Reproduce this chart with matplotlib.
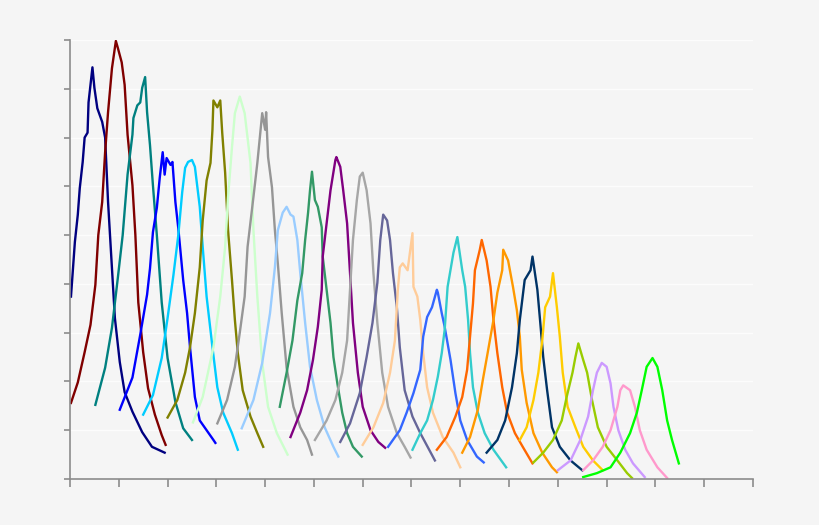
import matplotlib
matplotlib.use("Agg")
import matplotlib.pyplot as plt

# colours of the 24 histogram traces, left to right
colors = ["#000080", "#800000", "#008080", "#0000FF", "#00CCFF", "#808000",
          "#CCFFCC", "#969696", "#99CCFF", "#339966", "#800080", "#A6A6A6",
          "#666699", "#FFCC99", "#3366FF", "#33CCCC", "#FF6600", "#FF9900",
          "#003366", "#FFCC00", "#99CC00", "#CC99FF", "#FF99CC", "#00FF00"]

# x / y values of each trace (x 0..700, y 0..450)
xs = [
    [1, 5, 8, 10, 13, 15, 18, 19, 23, 25, 28, 33, 36, 39, 43, 46, 51, 56, 64, 74, 84, 97],
    [1, 8, 15, 21, 26, 29, 33, 36, 39, 43, 47, 49, 53, 56, 59, 64, 67, 70, 75, 80, 87, 94, 98],
    [26, 36, 43, 49, 54, 59, 64, 65, 69, 72, 74, 77, 79, 82, 85, 89, 94, 100, 108, 116, 125],
    [51, 64, 72, 79, 82, 85, 89, 92, 95, 97, 99, 103, 105, 108, 111, 116, 120, 123, 128, 133, 140, 147, 149],
    [75, 85, 94, 100, 106, 111, 115, 118, 121, 125, 128, 133, 136, 140, 146, 151, 157, 166, 172],
    [100, 110, 118, 123, 128, 133, 136, 140, 144, 146, 147, 151, 154, 156, 159, 162, 166, 169, 172, 177, 185, 192, 198],
    [126, 136, 147, 154, 159, 162, 166, 169, 174, 179, 185, 188, 192, 197, 203, 212, 223],
    [151, 161, 169, 174, 179, 182, 188, 192, 197, 200, 201, 203, 207, 210, 213, 217, 222, 229, 236, 243, 248],
    [176, 188, 197, 205, 210, 213, 218, 222, 226, 229, 233, 236, 241, 246, 253, 261, 270, 275],
    [215, 222, 228, 233, 238, 241, 244, 246, 248, 251, 254, 258, 259, 263, 267, 270, 274, 279, 284, 290, 299],
    [226, 236, 243, 249, 254, 258, 259, 263, 267, 272, 273, 277, 280, 284, 287, 290, 295, 300, 308, 316, 323],
    [251, 263, 272, 279, 284, 287, 290, 294, 297, 300, 304, 308, 311, 315, 320, 326, 335, 343, 349],
    [277, 287, 297, 304, 310, 315, 318, 321, 325, 328, 331, 335, 338, 343, 351, 359, 374],
    [300, 311, 321, 328, 333, 336, 338, 341, 346, 351, 352, 356, 359, 362, 366, 372, 382, 393, 400],
    [326, 338, 345, 352, 359, 362, 366, 371, 376, 377, 381, 384, 390, 395, 400, 407, 417, 424],
    [351, 359, 366, 372, 377, 381, 384, 387, 393, 397, 402, 405, 408, 410, 413, 418, 425, 434, 447],
    [376, 386, 395, 402, 407, 410, 413, 415, 420, 422, 427, 431, 434, 438, 443, 448, 456, 464, 474],
    [402, 410, 418, 423, 428, 434, 438, 443, 444, 449, 454, 458, 461, 463, 468, 475, 484, 494, 499],
    [427, 438, 446, 453, 458, 461, 466, 472, 474, 479, 482, 485, 489, 494, 502, 513, 525],
    [461, 468, 475, 480, 484, 487, 492, 495, 499, 502, 505, 510, 518, 526, 536, 546],
    [475, 485, 495, 504, 509, 515, 518, 521, 526, 530, 535, 541, 550, 561, 571, 576],
    [500, 513, 523, 531, 536, 540, 545, 550, 554, 557, 562, 569, 577, 589],
    [526, 536, 546, 554, 561, 564, 567, 574, 579, 584, 591, 602, 612],
    [526, 540, 554, 564, 574, 581, 586, 591, 597, 602, 607, 612, 617, 624],
]
ys = [
    [187, 243, 271, 298, 325, 350, 355, 386, 422, 401, 380, 366, 350, 284, 216, 165, 120, 89, 69, 48, 33, 27],
    [78, 99, 130, 158, 199, 250, 284, 335, 376, 421, 449, 442, 427, 404, 353, 301, 250, 181, 130, 93, 66, 45, 35],
    [76, 114, 155, 206, 250, 312, 353, 370, 383, 386, 401, 412, 376, 342, 301, 250, 181, 124, 79, 52, 40],
    [71, 104, 148, 189, 216, 253, 278, 309, 335, 312, 329, 322, 325, 284, 257, 204, 170, 135, 84, 60, 50, 40, 37],
    [66, 86, 124, 165, 209, 250, 294, 319, 325, 327, 320, 279, 238, 187, 135, 94, 68, 47, 30],
    [63, 81, 109, 135, 170, 217, 265, 306, 324, 358, 388, 381, 388, 355, 314, 255, 204, 163, 129, 91, 64, 47, 33],
    [58, 84, 135, 187, 238, 289, 340, 375, 392, 375, 324, 255, 187, 119, 74, 47, 25],
    [57, 81, 115, 150, 187, 238, 289, 324, 375, 358, 376, 330, 299, 255, 221, 170, 114, 74, 53, 40, 25],
    [52, 81, 119, 170, 217, 255, 273, 279, 271, 269, 245, 211, 160, 115, 81, 53, 33, 23],
    [74, 109, 142, 183, 211, 245, 273, 296, 315, 286, 279, 258, 228, 194, 160, 125, 98, 68, 47, 33, 23],
    [43, 68, 91, 122, 156, 194, 228, 262, 296, 327, 330, 320, 296, 262, 211, 160, 109, 74, 50, 38, 32],
    [40, 60, 81, 109, 142, 194, 245, 286, 310, 314, 296, 262, 211, 160, 109, 74, 47, 33, 22],
    [38, 57, 88, 125, 160, 201, 245, 271, 265, 245, 211, 176, 135, 91, 64, 47, 19],
    [35, 53, 78, 109, 142, 194, 217, 221, 214, 252, 197, 187, 163, 129, 94, 68, 43, 27, 12],
    [33, 50, 68, 88, 112, 146, 166, 176, 194, 191, 170, 156, 122, 88, 60, 40, 23, 17],
    [30, 47, 60, 81, 105, 129, 153, 197, 232, 248, 214, 197, 163, 129, 94, 68, 47, 30, 12],
    [30, 43, 64, 84, 112, 146, 180, 214, 235, 245, 224, 197, 163, 129, 94, 68, 47, 33, 16],
    [27, 43, 71, 101, 129, 163, 191, 214, 235, 224, 197, 173, 146, 112, 78, 47, 27, 12, 7],
    [27, 40, 60, 94, 129, 163, 204, 214, 228, 194, 160, 125, 91, 53, 33, 19, 9],
    [40, 53, 81, 109, 142, 176, 187, 211, 176, 146, 109, 74, 53, 33, 19, 9],
    [17, 27, 40, 60, 84, 109, 125, 139, 122, 109, 81, 53, 33, 19, 6, 1],
    [9, 19, 40, 64, 91, 109, 119, 115, 98, 74, 50, 30, 16, 2],
    [9, 19, 33, 50, 74, 91, 96, 91, 74, 50, 30, 12, 1],
    [2, 6, 12, 27, 47, 68, 91, 115, 124, 115, 91, 60, 40, 16],
]

bg = "#F5F5F5"
fig = plt.figure(figsize=(8.2, 5.25), dpi=100, facecolor=bg)
ax = fig.add_axes([70 / 820, 46 / 525, 683 / 820, 439 / 525], facecolor=bg)

for x, y, c in zip(xs, ys, colors):
    ax.plot(x, y, color=c, lw=1.7, solid_joinstyle="round")

ax.set_xlim(0, 700)
ax.set_ylim(0, 450)
ax.set_xticks(range(0, 701, 50))
ax.set_yticks(range(0, 451, 50))
ax.set_xticklabels([])
ax.set_yticklabels([])
ax.grid(axis="y", color="#FCFCFC", lw=1)
ax.set_axisbelow(True)
for s in ["top", "right"]:
    ax.spines[s].set_visible(False)
for s in ["left", "bottom"]:
    ax.spines[s].set_color("#8C8C8C")
    ax.spines[s].set_linewidth(1.2)
ax.tick_params(axis="x", direction="out", length=6, color="#8C8C8C", width=1.2)
ax.tick_params(axis="y", direction="out", length=4, color="#8C8C8C", width=1.2)

fig.savefig("out.png", dpi=100, facecolor=bg)
